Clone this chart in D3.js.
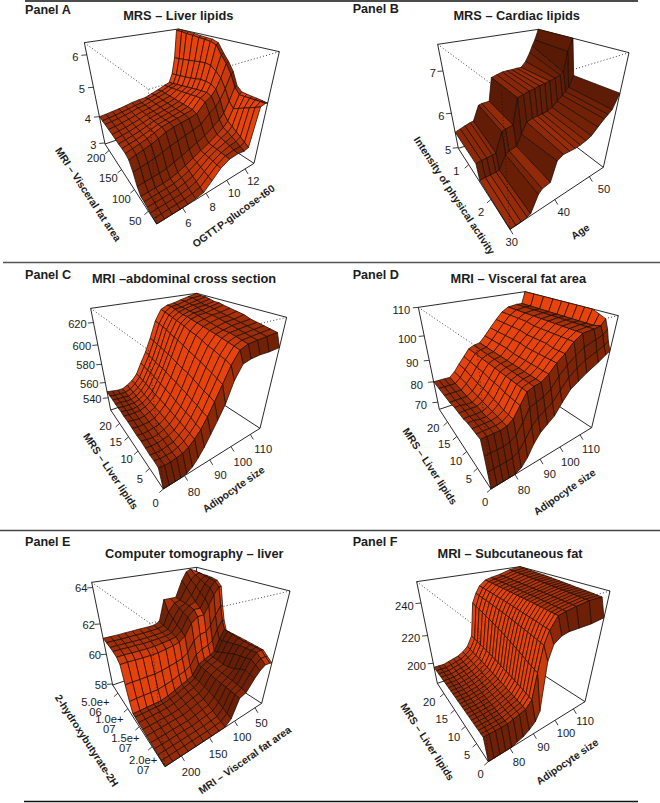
<!DOCTYPE html>
<html><head><meta charset="utf-8">
<script src="https://cdn.jsdelivr.net/npm/d3@7"></script>
<style>html,body{margin:0;background:#fff}svg{display:block}text{font-family:"Liberation Sans",Arial,sans-serif;fill:#1c1c1c}</style>
</head><body><svg id="c" width="660" height="803"></svg>
<script>
// ---------- DATA ----------
const xA=[3.77,4.44,5.1,5.78,6.44,7.11,7.78,8.5,9.25,10,10.85,11.49,11.91,12.35,12.78,13];
const yA=[20,31,42.5,53.7,64.8,75.9,87,98,110,122,134,146,158,170,183,196,206,217];
const zA=[
[2.96,2.96,2.96,2.96,2.97,2.99,3.03,3.25,3.5,3.65,3.68,3.65,3.7,4.9,4.95,4.93],
[2.98,2.98,2.99,2.99,3.0,3.03,3.08,3.28,3.51,3.66,3.71,3.72,3.79,4.82,4.94,4.94],
[3.0,3.01,3.01,3.02,3.03,3.07,3.14,3.32,3.52,3.66,3.75,3.79,3.88,4.74,4.93,4.95],
[3.03,3.03,3.04,3.05,3.07,3.12,3.19,3.35,3.53,3.67,3.78,3.86,3.97,4.66,4.92,4.95],
[3.05,3.06,3.07,3.08,3.1,3.16,3.25,3.39,3.54,3.67,3.82,3.93,4.06,4.58,4.91,4.96],
[3.07,3.08,3.09,3.1,3.13,3.2,3.3,3.42,3.55,3.68,3.85,4.0,4.15,4.5,4.9,4.97],
[3.23,3.25,3.27,3.29,3.33,3.41,3.5,3.6,3.71,3.83,4.02,4.17,4.33,4.67,5.07,5.1],
[3.54,3.58,3.62,3.67,3.74,3.83,3.9,3.97,4.04,4.12,4.37,4.51,4.69,5.01,5.41,5.47],
[3.79,3.85,3.91,3.98,4.07,4.17,4.23,4.27,4.31,4.37,4.65,4.79,4.97,5.27,5.68,5.73],
[3.86,3.92,3.98,4.05,4.14,4.23,4.28,4.32,4.36,4.42,4.71,4.83,5.07,5.43,5.9,5.95],
[3.88,3.93,3.98,4.05,4.12,4.2,4.25,4.3,4.35,4.42,4.69,4.81,5.09,5.55,6.15,6.2],
[3.89,3.94,3.99,4.05,4.12,4.2,4.25,4.3,4.35,4.42,4.66,4.78,5.08,5.58,6.21,6.26],
[3.91,3.95,4.0,4.06,4.12,4.19,4.24,4.29,4.35,4.42,4.63,4.74,5.04,5.55,6.23,6.27],
[3.93,3.97,4.01,4.06,4.12,4.19,4.23,4.29,4.35,4.42,4.6,4.71,4.99,5.52,6.24,6.28],
[3.95,3.98,4.02,4.07,4.12,4.18,4.22,4.29,4.35,4.42,4.57,4.66,4.95,5.48,6.26,6.3],
[3.97,4.0,4.03,4.07,4.12,4.18,4.21,4.28,4.35,4.42,4.54,4.62,4.91,5.45,6.27,6.31],
[3.98,4.01,4.04,4.08,4.12,4.17,4.2,4.28,4.35,4.42,4.52,4.58,4.88,5.42,6.29,6.32],
[4.0,4.02,4.05,4.08,4.12,4.17,4.2,4.22,4.3,4.38,4.48,4.55,4.85,5.4,6.3,6.33]];

const xB=[30,31.3,32.5,33.8,34.6,36.3,37.1,38.8,40,41.6,43.2,44.6,45.9,47.3,48.6,50,51.3,52.1,52.9,54];
const yB=[2.86,1.51,1.42,0.53];
const zB=[
[4.98,4.98,4.98,5.0,5.02,5.35,5.43,5.47,5.9,5.98,5.98,5.98,6.0,6.03,6.08,6.2,6.32,6.38,6.45,6.76],
[5.03,5.04,5.04,5.05,5.06,5.38,5.45,5.48,5.75,6.02,6.06,6.07,6.08,6.1,6.15,6.25,6.35,6.42,6.5,6.75],
[5.38,5.4,5.41,5.42,5.44,5.93,5.97,6.0,6.57,6.6,6.64,6.66,6.69,6.71,6.73,6.76,6.8,6.85,7.3,7.57],
[5.45,5.5,5.55,5.6,5.62,6.03,6.05,6.06,6.62,6.66,6.7,6.71,6.71,6.72,6.72,6.85,7.05,7.2,7.33,7.57]];

const xC=[71.5,73.8,76.2,78.5,80.8,83.1,85.4,87.7,90,92.7,95.5,98.2,101,104,107.5,111,115];
const yC=[0,1.15,2.7,4.2,5.9,7.7,9.5,11.7,13.9,16.1,17.5,19.1,20.6,22,23.5,25];
const zC=[
[523,523,523,523,524,527,533,541,551,562,574,592,604,606,607,607,608],
[540,539,539,540,541,544,549,556,565,576,589,603,613,616,617,618,619],
[541,540,540,540,542,545,550,557,566,578,591,605,614,617,618,619,620],
[541,540,540,541,542,546,551,559,568,579,593,606,615,618,619,620,621],
[542,541,541,542,543,546,552,560,569,581,595,608,616,619,620,621,622],
[543,542,541,542,544,547,553,561,571,583,597,609,617,619,621,622,623],
[543,542,542,543,544,548,554,562,572,585,599,611,618,620,622,623,625],
[544,543,543,543,545,549,555,564,574,586,601,613,619,621,623,624,626],
[545,544,543,544,546,549,556,565,575,588,603,614,620,622,624,625,627],
[545,544,544,544,546,550,556,566,577,590,605,616,621,623,624,626,628],
[546,545,544,545,547,551,557,567,578,591,606,617,622,624,625,627,629],
[546,545,545,545,547,551,558,568,578,592,607,618,622,624,626,627,629],
[546,546,545,545,547,552,559,569,579,593,609,619,623,625,627,628,630],
[547,546,546,545,548,552,559,569,580,594,610,620,624,625,627,629,631],
[547,546,546,546,548,553,560,570,581,595,611,621,625,626,628,630,631],
[548,547,546,546,549,553,560,571,582,596,612,622,625,626,628,630,632]];

const xD=[70.5,72.9,75.3,77.7,80.1,82.5,85,87.4,89.7,92.7,95.7,98.7,101.8,104.8,107.8,112,114.6,116];
const yD=[0,0.8,1.5,2.3,3.8,5.4,7.4,9.3,11.5,13.6,16.1,18.9,21.7,24.4];
const zD=[
[66.5,66.5,66.5,66.5,66.5,67.5,70,74,77,79,81,85,89,91,93,95.5,97.5,98.5],
[71.3,71.3,71.3,71.3,71.5,72.6,75.6,79.6,82,83.5,85.5,89,92.6,95,97,99,100.3,101.5],
[76,76,76,76,76.5,78,81.5,86,87,88,90,93.5,96.5,99,101,102.5,103.5,105],
[81,81,81,81,81.5,83,87,91,92,92.5,94.5,97.5,100,103,105,105.5,106,108],
[81,81,81,81,81.5,83,87,91,92,92.5,94.5,97.5,100,103,105,105.5,105.5,109],
[81,81,81,81,81.5,83,87,91,92,92.5,94.5,97.5,100,103,105,105.5,105.5,110],
[81,81,80.5,80.5,81.5,83.5,87,91,92,92.5,94.5,97.5,100.5,103,105,105.5,105.5,110],
[80.5,80.5,80.5,80.5,81.5,83.5,87.5,91,92,92.5,94.5,97.5,100.5,103,105,105.5,105.5,110],
[80.5,80.5,80.5,80.5,81.5,84,87.5,91,92,92.5,94.5,97.5,100.5,103,105,105.5,105.5,110],
[80.5,80.5,80,80,81.5,84,87.5,91,92,92.5,94.5,98,100.5,103,105,105.5,105.5,110],
[80,80,80,80,81.5,84,88,91,92,92.5,95,98,101,103.5,105,105.5,105.5,110],
[80,80,80,80,82,84.5,88,91,92,92.5,95,98,101,103.5,105,105.5,105.5,110],
[80,80,80,80,82,85,88,91,92,92.5,95,98,101,103.5,105,105.5,105.5,110],
[80,80,80,80,82,85,88,91,92,92.5,95,98,101,103.5,105,105.5,105.5,110]];

const xE=[229,215.4,201.7,188,174,160.3,146,131,119,108,95,81,66.7,57,47.6,37.9,33];
const yE=[25e6,23.6e6,22.3e6,20.9e6,19.5e6,17.9e6,16.4e6,14.8e6,13.4e6,12.5e6,11.6e6,10.7e6,9.7e6,8.4e6,6.8e6,5.5e6,3.9e6,2.4e6];
const zE=[
[57.93,57.93,57.93,57.93,57.93,57.93,57.93,57.94,57.95,58.2,59.15,59.3,59.9,60.25,60.47,60.45,60.4],
[57.95,57.95,57.96,57.96,57.96,57.97,57.97,58,58.02,58.3,59.18,59.35,60,60.42,60.69,60.7,60.65],
[57.98,57.98,57.99,57.99,58,58,58.02,58.06,58.1,58.4,59.2,59.4,60.1,60.6,60.9,60.95,60.9],
[58,58,58.01,58.02,58.03,58.03,58.08,58.14,58.2,58.5,59.22,59.43,59.96,60.53,60.88,60.97,60.93],
[58.03,58.03,58.04,58.05,58.06,58.06,58.14,58.23,58.3,58.6,59.23,59.45,59.8,60.47,60.87,60.98,60.96],
[58.05,58.06,58.07,58.08,58.09,58.1,58.2,58.32,58.4,58.7,59.25,59.48,59.7,60.4,60.85,61,61],
[58.08,58.08,58.09,58.1,58.1,58.14,58.25,58.39,58.48,58.74,59.3,59.51,59.66,60.26,60.78,61.06,61.03],
[58.11,58.11,58.12,58.12,58.13,58.19,58.31,58.46,58.57,58.79,59.34,59.55,59.72,60.1,60.7,61.12,61.06],
[58.14,58.14,58.14,58.14,58.14,58.23,58.35,58.52,58.64,58.83,59.38,59.58,59.74,59.98,60.64,61.17,61.08],
[58.15,58.15,58.15,58.15,58.15,58.25,58.38,58.56,58.68,58.85,59.4,59.6,59.75,59.9,60.6,61.2,61.1],
[58.69,58.69,58.69,58.68,58.68,58.76,58.87,59.03,59.14,59.34,59.94,60.17,60.29,60.51,61.18,61.73,61.66],
[59.5,59.5,59.49,59.49,59.48,59.53,59.62,59.73,59.83,60.08,60.75,61.03,61.1,61.43,62.05,62.53,62.5],
[60.53,60.53,60.51,60.5,60.49,60.5,60.58,60.65,60.76,61.04,61.77,62.1,62.12,62.57,63.15,63.54,63.57],
[60.78,60.78,60.76,60.75,60.74,60.75,60.81,60.87,60.95,61.26,62.05,62.4,62.4,62.9,63.45,63.8,63.84],
[60.89,60.89,60.87,60.87,60.85,60.86,60.9,60.94,61.04,61.47,62.2,62.49,62.65,63.14,63.6,63.9,63.92],
[60.94,60.94,60.94,60.93,60.93,60.94,60.97,61.01,61.12,61.76,62.34,62.54,62.93,63.42,63.77,63.96,63.95],
[61,61,60.99,61,61.01,61.02,61.04,61.08,61.2,62.03,62.5,62.6,63.29,63.7,63.97,64.04,63.97],
[61.05,61.05,61.05,61.07,61.08,61.1,61.1,61.13,61.3,62.65,62.65,62.65,63.6,64.1,64.25,64.1,64]];

const xF=[70.5,73,75.6,78.1,80.7,83.1,85.6,88.1,90.6,92.4,94.2,96,98.7,101.6,105.8,111,116.3];
const yF=[0,1.5,2.5,3.5,4.5,5.5,6.5,7.5,8.5,9.5,10.5,11.5,12.5,13.5,14.6,15.6,16.6,17.7,18.8,19.9,21,22,23.1];
const zF=[
[185,185,185,185,185,186,187,189,192,197,225,233,236,237,237,237,238],
[196,196,196,196,196,197,198,199,203,218,232,239,245,246,247,248,248],
[196,196,196,196.1,196.1,197.1,198.2,199.3,203.4,218.8,232.4,239.2,245.1,246.1,247.1,248.1,248.2],
[196.1,196.1,196.1,196.2,196.3,197.3,198.4,199.6,203.9,219.5,232.8,239.5,245.2,246.2,247.2,248.3,248.4],
[196.1,196.1,196.1,196.3,196.4,197.4,198.6,199.9,204.3,220.3,233.1,239.7,245.3,246.3,247.3,248.4,248.6],
[196.2,196.2,196.2,196.4,196.6,197.6,198.8,200.1,204.7,221,233.5,240,245.4,246.4,247.4,248.6,248.8],
[196.2,196.2,196.2,196.5,196.7,197.7,199,200.4,205.1,221.8,233.9,240.2,245.5,246.5,247.5,248.7,249],
[196.3,196.3,196.3,196.6,196.9,197.9,199.1,200.7,205.6,222.6,234.3,240.4,245.6,246.6,247.6,248.9,249.1],
[196.3,196.3,196.3,196.7,197,198,199.3,201,206,223.3,234.7,240.7,245.7,246.7,247.7,249,249.3],
[196.4,196.4,196.4,196.8,197.1,198.1,199.5,201.3,206.4,224.1,235,240.9,245.8,246.8,247.8,249.1,249.5],
[196.4,196.4,196.4,196.9,197.3,198.3,199.7,201.6,206.9,224.8,235.4,241.2,245.9,246.9,247.9,249.3,249.7],
[196.5,196.5,196.5,197,197.4,198.4,199.9,201.9,207.3,225.6,235.8,241.4,246,247,248,249.4,249.9],
[196.5,196.5,196.5,197,197.6,198.6,200.1,202.1,207.7,226.4,236.2,241.6,246,247,248,249.6,250.1],
[196.6,196.6,196.6,197.1,197.7,198.7,200.3,202.4,208.2,227.1,236.6,241.9,246.1,247.1,248.1,249.7,250.3],
[196.6,196.6,196.6,197.2,197.9,198.9,200.5,202.7,208.6,227.9,236.9,242.1,246.2,247.2,248.2,249.9,250.5],
[196.7,196.7,196.7,197.3,198,199,200.7,203,209,228.6,237.3,242.4,246.3,247.3,248.3,250,250.7],
[196.7,196.7,196.7,197.4,198.1,199.1,200.9,203.3,209.5,229.4,237.7,242.6,246.4,247.4,248.4,250.1,250.9],
[196.8,196.8,196.8,197.5,198.3,199.3,201,203.6,209.9,230.2,238.1,242.8,246.5,247.5,248.5,250.3,251],
[196.8,196.8,196.8,197.6,198.4,199.4,201.2,203.9,210.3,230.9,238.5,243.1,246.6,247.6,248.6,250.4,251.2],
[196.9,196.9,196.9,197.7,198.6,199.6,201.4,204.1,210.7,231.7,238.9,243.3,246.7,247.7,248.7,250.6,251.4],
[196.9,196.9,196.9,197.8,198.7,199.7,201.6,204.4,211.2,232.4,239.2,243.6,246.8,247.8,248.8,250.7,251.6],
[197,197,197,197.9,198.9,199.9,201.8,204.7,211.6,233.2,239.6,243.8,246.9,247.9,248.9,250.9,251.8],
[197,197,197,198,199,200,202,205,212,234,240,244,247,248,249,251,252]];

const xTicksA=[6,8,10,12], yTicksA=[50,100,150,200], zTicksA=[3,4,5,6];
const xTicksB=[30,40,50], yTicksB=[1,2], zTicksB=[5,6,7];
const xTicksC=[80,90,100,110], yTicksC=[0,5,10,15,20], zTicksC=[540,560,580,600,620];
const xTicksD=[80,90,100,110], yTicksD=[0,5,10,15,20], zTicksD=[70,80,90,100,110];
const xTicksE=[200,150,100,50], yTicksE=[5e6,1e7,1.5e7,2e7], zTicksE=[58,60,62,64];
const xTicksF=[80,90,100,110], yTicksF=[0,5,10,15,20], zTicksF=[200,220,240];
const yLabelsE=[["5.0e+","06"],["1.0e+","07"],["1.5e+","07"],["2.0e+","07"]];

// ---------- LAYOUT ----------
const Z=(x,y,ox=0,oy=0)=>[ox+x/3,oy+y/3];
const panels=[
{name:"Panel A",nameXY:[25,9.5],title:"MRS – Liver lipids",titleXY:[178.3,16],xg:xA,yg:yA,zg:zA,xt:xTicksA,yt:yTicksA,zt:zTicksA,
 xk:[3.77,6,8,10,12,13],uk:[0,.267,.507,.72,.908,1],yk:[20,50,100,150,200,217],vk:[0,.16,.43,.68,.92,1],zk:[2.96,4,5,6,6.33],fk:[0,.27,.56,.88,1],
 c:{Ff:Z(470,672),Fr:Z(762,490),Fl:Z(315,432),Fb:Z(550,352),Tf:Z(445,268),Tr:Z(838,155),Tl:Z(253,128),Tb:Z(535,87)},
 xl:[4.6,16.3,8.7,11.6],yl:[-13.3,10.9,-13,6.8],zl:[-11.5,2],light:[-.75,.4,.3],
 xLab:"OGTT.P-glucose-t60",xLabXY:[234,216.7],xAng:-36,yLab:"MRI – Visceral fat area",yLabXY:[87.5,195],yAng:56.5},
{name:"Panel B",nameXY:[352.7,9],title:"MRS – Cardiac lipids",titleXY:[516.7,16],xg:xB,yg:yB,zg:zB,xt:xTicksB,yt:yTicksB,zt:zTicksB,
 xk:[30,40,50,54],uk:[0,.48,.85,1],yk:[2.86,.53],vk:[0,1],zk:[4.98,6,7,7.57],fk:[0,.337,.744,1],
 c:{Ff:Z(540,688,330),Fr:Z(820,502,330),Fl:Z(385,445,330),Fb:Z(640,365,330),Tf:Z(514,274,330),Tr:Z(897,158,330),Tl:Z(323,133,330),Tb:Z(625,88,330)},
 xl:[1.7,13,17,12.6],yl:[-7.7,18.3,-13.6,3],zl:[-10,2.5],light:[.62,.42,.36],
 xLab:"Age",xLabXY:[580.7,232.3],xAng:-33,yLab:"Intensity of physical activity",yLabXY:[453.7,196],yAng:56.7},
{name:"Panel C",nameXY:[25,275],title:"MRI –abdominal cross section",titleXY:[184,279],xg:xC,yg:yC,zg:zC,xt:xTicksC,yt:yTicksC,zt:zTicksC,
 xk:[71.5,80,90,100,110,115],uk:[0,.22,.48,.7,.9,1],yk:[0,5,10,15,20,25],vk:[0,.26,.48,.66,.83,1],zk:[523,540,560,580,600,620,632],fk:[0,.12,.27,.45,.64,.86,1],
 c:{Ff:Z(490,672,0,265),Fr:Z(780,490,0,265),Fl:Z(332,435,0,265),Fb:Z(571,354,0,265),Tf:Z(445,255,0,265),Tr:Z(860,157,0,265),Tl:Z(272,130,0,265),Tb:Z(590,85,0,265)},
 xl:[8.1,16.4,13.5,14.5],yl:[-7.7,14.3,-15.5,0],zl:[-16,1],light:[-.75,.4,.3],
 xLab:"Adipocyte size",xLabXY:[234,490],xAng:-35,yLab:"MRS – Liver lipids",yLabXY:[110,471.7],yAng:56},
{name:"Panel D",nameXY:[352.7,275],title:"MRI – Visceral fat area",titleXY:[518.3,279],xg:xD,yg:yD,zg:zD,xt:xTicksD,yt:yTicksD,zt:zTicksD,
 xk:[70.5,80,90,100,110,116],uk:[0,.238,.487,.685,.884,1],yk:[0,5,10,15,20,24.4],vk:[0,.26,.47,.66,.84,1],zk:[66.5,70,80,90,100,110],fk:[0,.07,.27,.48,.72,1],
 c:{Ff:Z(483,672,330,265),Fr:Z(785,488,330,265),Fl:Z(328,433,330,265),Fb:Z(575,350,330,265),Tf:Z(440,245,330,265),Tr:Z(865,152,330,265),Tl:Z(265,127,330,265),Tb:Z(585,80,330,265)},
 xl:[8.3,16.2,11.3,14],yl:[-6,12.7,-16,5],zl:[-17,3],light:[-.75,.4,.3],
 xLab:"Adipocyte size",xLabXY:[565,492.7],xAng:-35,yLab:"MRS – Liver lipids",yLabXY:[429.3,466.7],yAng:56.4},
{name:"Panel E",nameXY:[25,542],title:"Computer tomography – liver",titleXY:[194.3,554],xg:xE,yg:yE,zg:zE,xt:xTicksE,yt:yTicksE,zt:zTicksE,ytl:yLabelsE,
 xk:[229,200,150,100,50,33],uk:[0,.17,.46,.72,.93,1],yk:[25e6,2e7,1.5e7,1e7,5e6,2.4e6],vk:[0,.245,.49,.71,.9,1],zk:[57.93,60,62,64,64.3],fk:[0,.3,.595,.95,1],
 c:{Ff:Z(495,710,0,530),Fr:Z(785,520,0,530),Fl:Z(338,465,0,530),Fb:Z(575,385,0,530),Tf:Z(450,280,0,530),Tr:Z(870,183,0,530),Tl:Z(275,157,0,530),Tb:Z(590,112,0,530)},
 xl:[10.4,16.4,6.4,15.6],yl:[-4,19.5,-24.5,13.6],zl:[-11.5,1],light:[.55,-.72,.3],
 xLab:"MRI – Visceral fat area",xLabXY:[245.3,760.7],xAng:-35,yLab:"2-hydroxybutyrate-2H",yLabXY:[86,741],yAng:57},
{name:"Panel F",nameXY:[352.7,542],title:"MRI – Subcutaneous fat",titleXY:[510,554],xg:xF,yg:yF,zg:zF,xt:xTicksF,yt:yTicksF,zt:zTicksF,
 xk:[70.5,80,90,100,110,116.3],uk:[0,.224,.466,.69,.88,1],yk:[0,5,10,15,20,23.1],vk:[0,.23,.45,.66,.87,1],zk:[185,200,220,240,252],fk:[0,.197,.47,.79,1],
 c:{Ff:Z(475,695,330,530),Fr:Z(765,515,330,530),Fl:Z(322,460,330,530),Fb:Z(555,380,330,530),Tf:Z(445,295,330,530),Tr:Z(840,183,330,530),Tl:Z(260,155,330,530),Tb:Z(570,110,330,530)},
 xl:[8,15,12.3,11.6],yl:[-7.7,12.7,-15.7,7.3],zl:[-16.7,2.5],light:[-.75,.4,.3],
 xLab:"Adipocyte size",xLabXY:[567.7,762.3],xAng:-34.5,yLab:"MRS – Liver lipids",yLabXY:[426.7,742.3],yAng:57}
];
const rules=[[25,638,1,"#111",1.6],[3,660,262.5,"#555",1.6],[0,660,530.5,"#444",1.3],[24,638,801.5,"#111",1.3]];
const base=[244,70,14];
const shadeRamp=d3.scaleLinear().domain([.12,.65,.92]).range([.34,.58,.95]).clamp(true);

// ---------- DRAW ----------
const svg=d3.select("#c");
svg.selectAll("line.rule").data(rules).join("line").attr("class","rule")
 .attr("x1",d=>d[0]).attr("x2",d=>d[1]).attr("y1",d=>d[2]).attr("y2",d=>d[2]).attr("stroke",d=>d[3]).attr("stroke-width",d=>d[4]);
const line=d3.line();
panels.forEach(p=>{
 const g=svg.append("g");
 const su=d3.scaleLinear().domain(p.xk).range(p.uk), sv=d3.scaleLinear().domain(p.yk).range(p.vk), sf=d3.scaleLinear().domain(p.zk).range(p.fk);
 const c=p.c;
 const mix=(a,b,t)=>[a[0]+(b[0]-a[0])*t,a[1]+(b[1]-a[1])*t];
 const proj=(u,v,f)=>{
  const fl=mix(mix(c.Ff,c.Fr,u),mix(c.Fl,c.Fb,u),v), tp=mix(mix(c.Tf,c.Tr,u),mix(c.Tl,c.Tb,u),v);
  return mix(fl,tp,f);};
 const seg=(a,b,o={})=>g.append("path").attr("d",line([a,b])).attr("fill","none").attr("stroke","#111").attr("stroke-width",o.w||.9).attr("stroke-dasharray",o.d||null);
 [[c.Tl,c.Tb],[c.Tb,c.Tr],[c.Tl,c.Fl],[c.Tr,c.Fr],[c.Fl,c.Fb],[c.Fr,c.Fb],[c.Tb,c.Fb]].forEach(s=>seg(s[0],s[1]));
 [[c.Tl,c.Tf],[c.Tr,c.Tf]].forEach(s=>seg(s[0],s[1],{w:.8,d:"1 2.2"}));
 // facets, far corner first
 const L=p.light, ln=Math.hypot(...L);
 const facets=[];
 for(let i=p.xg.length-2;i>=0;i--) for(let j=p.yg.length-2;j>=0;j--){
  const pts=[[i,j],[i+1,j],[i+1,j+1],[i,j+1]].map(([a,b])=>[su(p.xg[a]),sv(p.yg[b]),sf(p.zg[b][a])]);
  const d1=[0,1,2].map(k=>pts[2][k]-pts[0][k]), d2=[0,1,2].map(k=>pts[3][k]-pts[1][k]);
  let n=[d1[1]*d2[2]-d1[2]*d2[1],d1[2]*d2[0]-d1[0]*d2[2],d1[0]*d2[1]-d1[1]*d2[0]];
  const nl=Math.hypot(...n); n=n.map(q=>q/nl*(n[2]<0?-1:1));
  const t=(1+(n[0]*L[0]+n[1]*L[1]+n[2]*L[2])/ln)/2, s=shadeRamp(t);
  facets.push({poly:pts.map(q=>proj(q[0],q[1],q[2])),col:d3.rgb(base[0]*s,base[1]*s,base[2]*s).formatHex()});
 }
 g.append("g").selectAll("path").data(facets).join("path").attr("d",d=>line(d.poly)+"Z").attr("fill",d=>d.col)
  .attr("stroke","#1e0d07").attr("stroke-width",.75).attr("stroke-linejoin","round");
 seg(c.Tf,c.Ff,{w:.7,d:"1 2.2"});
 seg(c.Fl,c.Ff); seg(c.Ff,c.Fr);
 const tl=(a,b,t)=>a+(b-a)*t;
 const label=(pos,txt)=>{
  const lines=Array.isArray(txt)?txt:[String(txt)];
  const T=g.append("text").attr("text-anchor","middle").attr("font-size",11.2).attr("x",pos[0]).attr("y",pos[1]+4-(lines.length-1)*5);
  lines.forEach((s,i)=>T.append("tspan").attr("x",pos[0]).attr("dy",i?10:0).text(s));
 };
 // axis ticks
 p.xt.forEach(x=>{const u=su(x),b=proj(u,0,0);
  seg(b,[b[0]+3,b[1]+5],{w:.8});
  label([b[0]+tl(p.xl[0],p.xl[2],u),b[1]+tl(p.xl[1],p.xl[3],u)],x);});
 p.yt.forEach((y,i)=>{const v=sv(y),b=proj(0,v,0);
  seg(b,[b[0]-4,b[1]+3.5],{w:.8});
  label([b[0]+tl(p.yl[0],p.yl[2],v),b[1]+tl(p.yl[1],p.yl[3],v)],p.ytl?p.ytl[i]:y);});
 p.zt.forEach(z=>{const b=proj(0,1,sf(z));
  seg(b,[b[0]-5.5,b[1]+.5],{w:.8});
  label([b[0]+p.zl[0],b[1]+p.zl[1]],z);});
 // names and titles
 g.append("text").attr("font-weight","bold").attr("font-size",12.6).attr("x",p.nameXY[0]).attr("y",p.nameXY[1]+4).text(p.name);
 g.append("text").attr("font-weight","bold").attr("font-size",12.8).attr("text-anchor","middle").attr("x",p.titleXY[0]).attr("y",p.titleXY[1]+4).text(p.title);
 [[p.xLab,p.xLabXY,p.xAng],[p.yLab,p.yLabXY,p.yAng]].forEach(([s,xy,a])=>{
  g.append("text").attr("font-weight","bold").attr("font-size",10.4).attr("text-anchor","middle").attr("dominant-baseline","middle")
   .attr("transform",`translate(${xy[0]},${xy[1]}) rotate(${a})`).text(s);});
});
</script></body></html>
